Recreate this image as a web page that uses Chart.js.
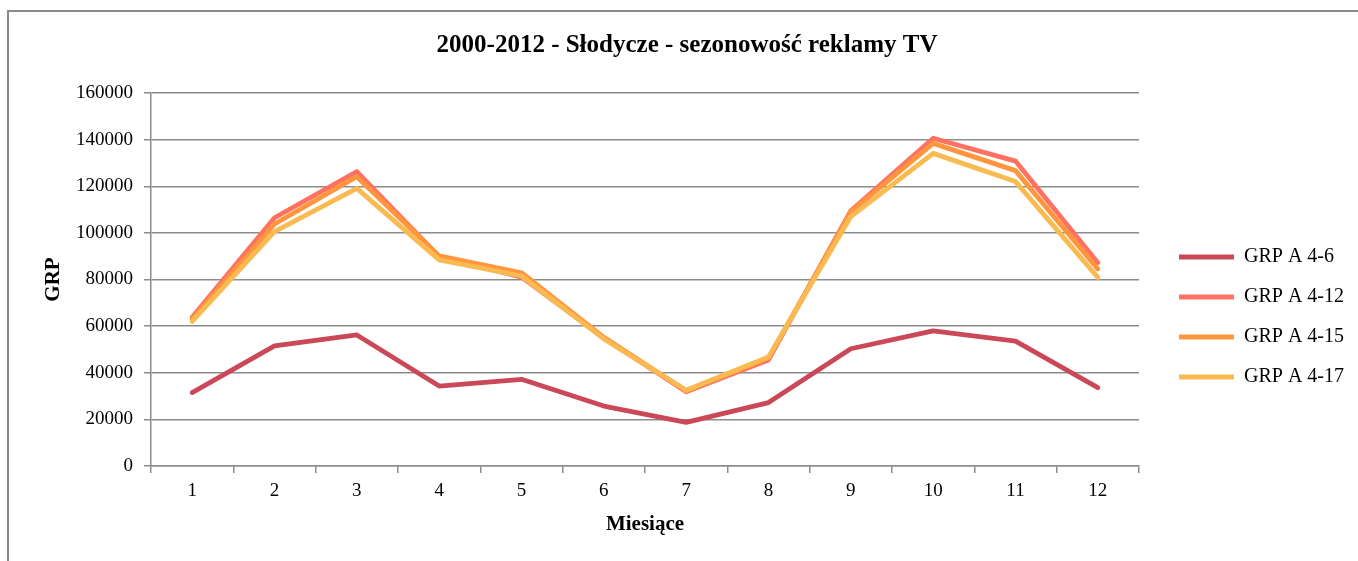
<!DOCTYPE html>
<html lang="pl">
<head>
<meta charset="utf-8">
<title>Słodycze - sezonowość reklamy TV</title>
<script src="https://cdn.jsdelivr.net/npm/chart.js@4/dist/chart.umd.min.js"></script>
<style>
    html, body { margin: 0; padding: 0; background: #fff; overflow: hidden; }
    #wrap { position: relative; width: 1358px; height: 561px; }
    #frame {
        position: absolute; left: 7px; top: 10px; width: 1400px; height: 600px;
        border-left: 2px solid #8a8a8a; border-top: 2px solid #8a8a8a;
    }
    #chart { position: absolute; left: 0; top: 0; }
</style>
</head>
<body>
<div id="wrap">
    <div id="frame"></div>
    <canvas id="chart" width="1358" height="561"></canvas>
</div>
<script>
// Months 1..12, GRP per age group (2000-2012)
const months = ["1", "2", "3", "4", "5", "6", "7", "8", "9", "10", "11", "12"];
const grp4_6  = [31500, 51500, 56200, 34300, 37200, 25700, 18700, 27200, 50300, 58000, 53600, 33600];
const grp4_12 = [63800, 106500, 126300, 89800, 81000, 55000, 31800, 45500, 109500, 140600, 130800, 87200];
const grp4_15 = [63000, 103800, 124100, 90100, 82900, 55200, 32300, 46300, 109000, 138400, 126700, 84500];
const grp4_17 = [62000, 100500, 119100, 88400, 81500, 54500, 32500, 46800, 107000, 134100, 122000, 80900];
const yTicks  = [0, 20000, 40000, 60000, 80000, 100000, 120000, 140000, 160000];

const labels = ["GRP A 4-6", "GRP A 4-12", "GRP A 4-15", "GRP A 4-17"];
const colors = ["#cb4858", "#ff7262", "#ff963e", "#f9ba52"];
const series = [grp4_6, grp4_12, grp4_15, grp4_17];

const SERIF = "'Liberation Serif', 'DejaVu Serif', serif";
const GRID = "#8c8c8c";

// plot box edges in canvas pixels
const PLOT_LEFT = 151, PLOT_BOTTOM = 466;
const PAD = { left: 20, right: 4, top: 22, bottom: 16 };

const datasets = series.map((data, i) => ({
    label: labels[i],
    data: data,
    borderColor: colors[i],
    backgroundColor: colors[i],
    borderWidth: 4.8,
    borderCapStyle: "round",
    borderJoinStyle: "round",
    pointRadius: 0,
    pointHoverRadius: 0,
    tension: 0,
    // later series sit on top
    order: series.length - i
}));

new Chart(document.getElementById("chart"), {
    type: "line",
    data: { labels: months, datasets: datasets },
    options: {
        responsive: false,
        animation: false,
        layout: { padding: PAD },
        plugins: {
            tooltip: { enabled: false },
            title: {
                display: true,
                text: "2000-2012 - Słodycze - sezonowość reklamy TV",
                color: "#000",
                font: { family: SERIF, size: 25, weight: "bold" },
                padding: { top: 9, bottom: 32 }
            },
            legend: {
                display: true,
                position: "right",
                align: "center",
                // empty title only pushes the entries a bit lower
                title: {
                    display: true,
                    text: " ",
                    font: { family: SERIF, size: 10 },
                    padding: { top: 55, bottom: 0 }
                },
                labels: {
                    usePointStyle: true,
                    pointStyle: "line",
                    pointStyleWidth: 55,
                    boxHeight: 20,
                    padding: 20,
                    color: "#000",
                    font: { family: SERIF, size: 20 },
                    sort: (a, b) => a.datasetIndex - b.datasetIndex
                }
            }
        },
        scales: {
            x: {
                offset: true,
                grid: {
                    offset: true,
                    drawOnChartArea: false,
                    drawTicks: true,
                    tickLength: 7,
                    color: GRID,
                    lineWidth: 1.5
                },
                border: { display: true, color: GRID, width: 1.5 },
                ticks: {
                    color: "#000",
                    padding: 7,
                    font: { family: SERIF, size: 19 }
                },
                title: {
                    display: true,
                    text: "Miesiące",
                    color: "#000",
                    padding: { top: 4, bottom: 8 },
                    font: { family: SERIF, size: 21, weight: "bold" }
                },
                afterFit: (scale) => { scale.height = 561 - PAD.bottom - PLOT_BOTTOM; }
            },
            y: {
                min: 0,
                max: 160000,
                afterBuildTicks: (scale) => { scale.ticks = yTicks.map(v => ({ value: v })); },
                grid: {
                    color: GRID,
                    lineWidth: 1.5,
                    drawTicks: true,
                    tickLength: 7
                },
                border: { display: true, color: GRID, width: 1.5 },
                ticks: {
                    color: "#000",
                    padding: 11,
                    font: { family: SERIF, size: 19 },
                    callback: (v) => String(v)
                },
                title: {
                    display: true,
                    text: "GRP",
                    color: "#000",
                    padding: { top: 21, bottom: 4 },
                    font: { family: SERIF, size: 21, weight: "bold" }
                },
                afterFit: (scale) => { scale.width = PLOT_LEFT - PAD.left; }
            },
            // blank strip between the plot and the legend
            gap: {
                type: "linear",
                position: "right",
                display: true,
                grid: { display: false },
                border: { display: false },
                ticks: { display: false },
                afterFit: (scale) => { scale.width = 20; }
            }
        }
    }
});
</script>
</body>
</html>
